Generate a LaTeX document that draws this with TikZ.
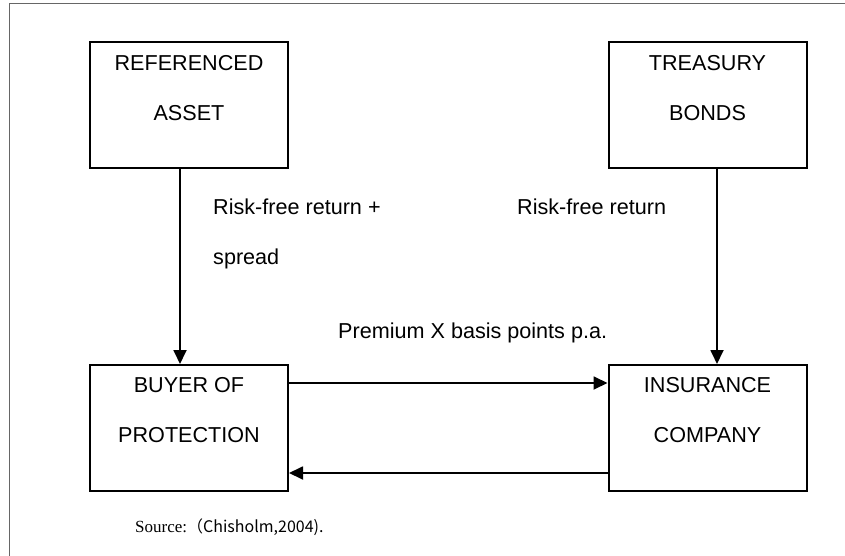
\documentclass[tikz,border=0pt]{standalone}
\usepackage{fontspec}
\setmainfont{Liberation Sans}
\newfontfamily\srcserif{Liberation Serif}
\newfontfamily\cjk{Noto Sans CJK JP}
\usetikzlibrary{calc,positioning,arrows.meta}

\begin{document}
\begin{tikzpicture}[x=1pt,y=-1pt,party/.style={draw,line width=2pt,minimum width=198pt,minimum height=126pt,inner sep=0pt},partytext/.style={align=center,inner sep=0pt,font=\fontsize{21.6}{50}\selectfont},flow/.style={align=left,inner sep=0pt,anchor=north west,font=\fontsize{21.6}{50}\selectfont},arrow/.style={-{Triangle[length=14pt,width=13pt]},line width=1.8pt},frame/.style={draw=black!60,line width=1pt}]
  \useasboundingbox (0,0) rectangle (845,556);
  \draw[frame] (9,556) -- (9,4) -- (845,4);
  \node[party] (asset) at (189,105.5) {};
  \node[party] (bonds) at ($ (asset) + (518.5,0) $) {};
  \node[party] (buyer) at ($ (asset) + (0,322.5) $) {};
  \node[party] (insurer) at ($ (bonds) + (0,322.5) $) {};
  \node[partytext,below=13.6pt of asset.north] (assettext) {REFERENCED\\ASSET};
  \node[partytext,below=13.6pt of bonds.north] (bondstext) {TREASURY\\BONDS};
  \node[partytext,below=13.6pt of buyer.north] (buyertext) {BUYER OF\\PROTECTION};
  \node[partytext,below=13.6pt of insurer.north] (insurertext) {INSURANCE\\COMPANY};
  \node[flow] (spreadlabel) at (213,198.6) {Risk-free return +\\spread};
  \node[flow] (riskfree) at (517,198.6) {Risk-free return};
  \node[flow] (premium) at (338,323) {Premium X basis points p.a.};
  \node[anchor=north west,inner sep=0pt,font=\fontsize{16}{18}\selectfont] (source) at (135,519) {{\srcserif\fontsize{17}{18}\selectfont Source:}\cjk（Chisholm,2004).};
  \draw[arrow] ([xshift=-9pt]asset.south) -- ([xshift=-9pt]buyer.north);
  \draw[arrow] ([xshift=9.5pt]bonds.south) -- ([xshift=9.5pt]insurer.north);
  \draw[arrow] ([yshift=45pt]buyer.east) -- ([yshift=45pt]insurer.west);
  \draw[arrow] ([yshift=-45pt]insurer.west) -- ([yshift=-45pt]buyer.east);
\end{tikzpicture}
\end{document}
